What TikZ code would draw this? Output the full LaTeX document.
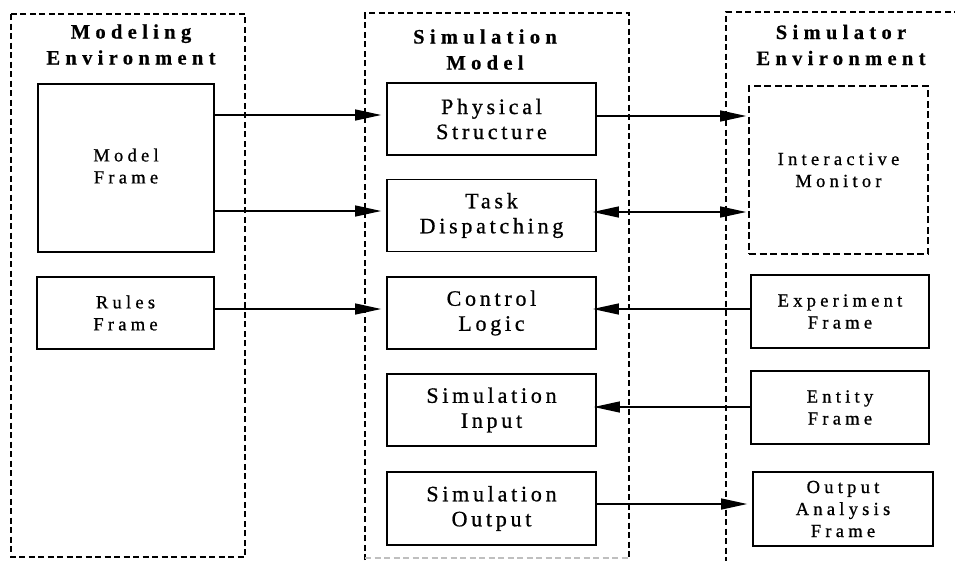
\documentclass[tikz,border=0pt]{standalone}
\usepackage{fontspec}
\setmainfont{Liberation Serif}
\newfontfamily\ttlfont[LetterSpace=26,FakeBold=0.6]{Liberation Serif}
\newfontfamily\midfont[LetterSpace=17,FakeBold=0.8]{Liberation Serif}
\newfontfamily\sidefont[LetterSpace=23,FakeBold=0.8]{Liberation Serif}
\usetikzlibrary{arrows.meta}
\begin{document}
\begin{tikzpicture}[x=1pt,y=-1pt,
  cont/.style={line width=1.7pt, dash pattern=on 6pt off 3.5pt},
  box/.style={draw, line width=1.7pt, align=center, inner sep=0pt},
  midbox/.style={box, minimum width=209pt, minimum height=72pt, font=\midfont\fontsize{22}{25}\selectfont},
  sidebox/.style={box, font=\sidefont\fontsize{18.5}{22}\selectfont},
  ttl/.style={align=center, inner sep=0pt, font=\ttlfont\bfseries\fontsize{20.5}{26}\selectfont},
  arr/.style={line width=1.3pt, -{Triangle[length=26pt,width=11pt]}},
  darr/.style={line width=1.3pt, {Triangle[length=26pt,width=11pt]}-{Triangle[length=26pt,width=11pt]}}
]
\useasboundingbox (0,0) rectangle (955,560);
\clip (0,0) rectangle (955,560);
\fill[white] (0,0) rectangle (955,560);

% containers
\draw[cont] (11,14) rectangle (245,557);
\draw[cont] (365,560) -- (365,13) -- (629,13) -- (629,560);
\draw[cont, black!25] (365,558) -- (629,558);
\draw[cont] (960,12) -- (726,12) -- (726,565);

% titles
\node[ttl] (t1) at (131,44.5) {Modeling\\Environment};
\node[ttl] (t2) at (485,49.5) {Simulation\\Model};
\node[ttl] (t3) at (841,45) {Simulator\\Environment};

% left boxes
\node[sidebox, minimum width=176pt, minimum height=168pt] (mf) at (126,168) {\raisebox{6pt}{\begin{tabular}{@{}c@{}}Model\\Frame\end{tabular}}};
\node[sidebox, minimum width=177pt, minimum height=72pt] (rf) at (125.5,313) {Rules\\Frame};

% middle boxes
\node[midbox] (ps) at (491.5,119) {Physical\\Structure};
\node[midbox] (td) at (491.5,215.5) {Task\\Dispatching};
\node[midbox] (cl) at (491.5,313) {Control\\Logic};
\node[midbox] (si) at (491.5,410) {Simulation\\Input};
\node[midbox, minimum height=73pt] (so) at (491.5,508.5) {Simulation\\Output};

% right boxes
\node[sidebox, dash pattern=on 7pt off 3.5pt, line width=1.6pt, minimum width=179pt, minimum height=168pt] (im) at (838.5,170) {Interactive\\Monitor};
\node[sidebox, minimum width=178pt, minimum height=73pt] (ef) at (840,311.5) {Experiment\\Frame};
\node[sidebox, minimum width=178pt, minimum height=73pt] (en) at (840,407.5) {Entity\\Frame};
\node[sidebox, minimum width=180pt, minimum height=74pt] (oa) at (843,509) {Output\\Analysis\\Frame};

% arrows
\draw[arr, shorten >=5pt] (mf.east |- 0,115) -- (ps.west |- 0,115);
\draw[arr, shorten >=5pt] (mf.east |- 0,211) -- (td.west |- 0,211);
\draw[arr, shorten >=5pt] (rf.east |- 0,309) -- (cl.west |- 0,309);
\draw[arr, shorten >=2pt] (ps.east |- 0,116) -- (im.west |- 0,116);
\draw[darr, shorten <=-4pt, shorten >=2pt] (td.east |- 0,212) -- (im.west |- 0,212);
\draw[arr, shorten >=-4pt] (ef.west |- 0,309) -- (cl.east |- 0,309);
\draw[arr, shorten >=-3pt] (en.west |- 0,407) -- (si.east |- 0,407);
\draw[arr, shorten >=5pt] (so.east |- 0,504) -- (oa.west |- 0,504);
\end{tikzpicture}
\end{document}
